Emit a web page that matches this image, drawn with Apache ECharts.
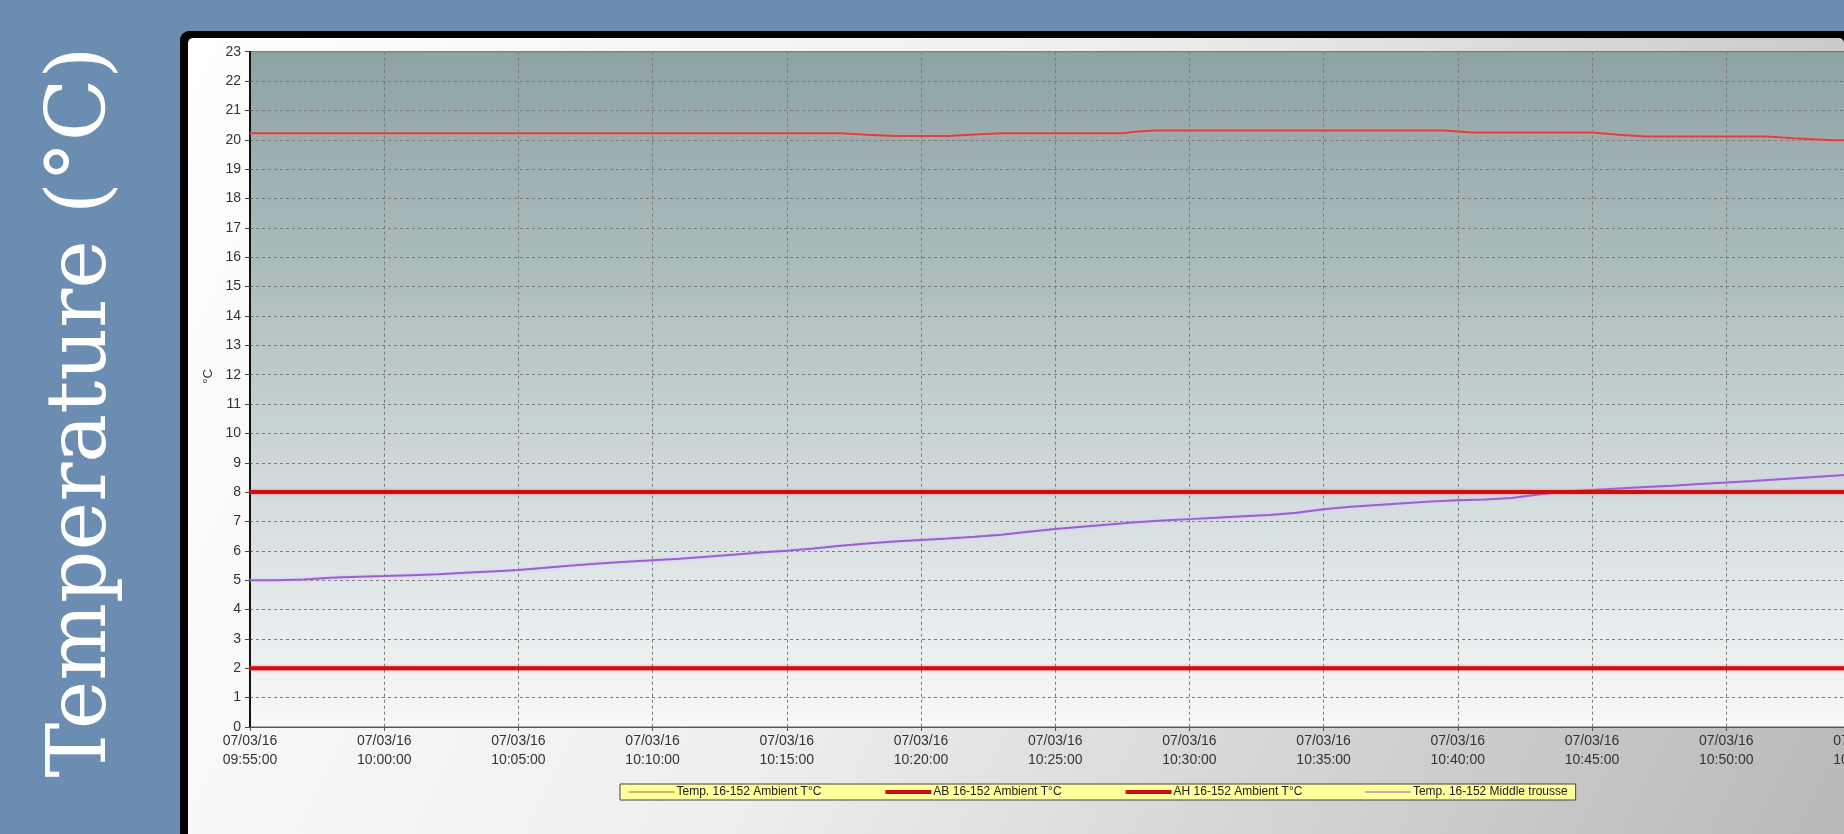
<!DOCTYPE html>
<html>
<head>
<meta charset="utf-8">
<script src="https://cdn.jsdelivr.net/npm/echarts@6/dist/echarts.min.js"></script>
<style>
html,body{margin:0;padding:0;width:1844px;height:834px;overflow:hidden;background:#6b8db1;}
#c{position:absolute;left:0;top:0;width:2100px;height:834px;}
</style>
</head>
<body>
<div id="c"></div>
<script>
// ---- data ----
const chartDate = '07/03/16';
const seriesNames = ['Temp. 16-152 Ambient T°C', 'AB 16-152 Ambient T°C', 'AH 16-152 Ambient T°C', 'Temp. 16-152 Middle trousse'];

const ambientTimes = ['09:55:00','10:17:00','10:18:00','10:19:00','10:21:00','10:22:00','10:23:00','10:27:30','10:28:00','10:28:40','10:39:30','10:40:30','10:45:00','10:46:00','10:47:00','10:51:30','10:52:30','10:54:00','11:00:00'];
const ambientValues = [20.22,20.22,20.17,20.13,20.13,20.18,20.22,20.22,20.27,20.32,20.32,20.25,20.25,20.17,20.11,20.11,20.05,19.98,19.98];

const limitTimes = ['09:55:00','11:00:00'];
const abValues = [2, 2];
const ahValues = [8, 8];

const middleTimes = ['09:55:00','09:56:00','09:57:00','09:58:00','09:59:00','10:00:00','10:01:00','10:02:00','10:03:00','10:04:00','10:05:00','10:06:00','10:07:00','10:08:00','10:09:00','10:10:00','10:11:00','10:12:00','10:13:00','10:14:00','10:15:00','10:16:00','10:17:00','10:18:00','10:19:00','10:20:00','10:21:00','10:22:00','10:23:00','10:24:00','10:25:00','10:26:00','10:27:00','10:28:00','10:29:00','10:30:00','10:31:00','10:32:00','10:33:00','10:34:00','10:35:00','10:36:00','10:37:00','10:38:00','10:39:00','10:40:00','10:41:00','10:42:00','10:43:00','10:44:00','10:45:00','10:46:00','10:47:00','10:48:00','10:49:00','10:50:00','10:51:00','10:52:00','10:53:00','10:54:00','10:55:00','10:56:00','10:57:00','10:58:00','10:59:00','11:00:00'];
const middleValues = [5.0,5.0,5.02,5.08,5.12,5.14,5.17,5.2,5.25,5.3,5.35,5.42,5.5,5.57,5.63,5.68,5.73,5.8,5.87,5.94,6.0,6.08,6.17,6.25,6.32,6.37,6.42,6.48,6.55,6.65,6.74,6.82,6.9,6.97,7.03,7.08,7.13,7.18,7.22,7.3,7.42,7.5,7.56,7.62,7.68,7.72,7.75,7.8,7.92,8.02,8.07,8.12,8.17,8.22,8.28,8.33,8.38,8.44,8.5,8.56,8.62,8.68,8.74,8.8,8.85,8.9];

const yTicks = {min: 0, max: 23, interval: 1};
const xTicks = {start: '09:55:00', end: '11:00:00', intervalMin: 5};

// ---- helpers ----
function toMin(t) {
  const p = t.split(':').map(Number);
  return p[0] * 60 + p[1] + (p[2] || 0) / 60;
}
const base = toMin(xTicks.start);
function pairs(times, vals) { return times.map((t, i) => [toMin(t) - base, vals[i]]); }
function pad(n) { return (n < 10 ? '0' : '') + n; }
function fmtTime(v) {
  const m = Math.round(base + v);
  return pad(Math.floor(m / 60)) + ':' + pad(m % 60) + ':00';
}

const chart = echarts.init(document.getElementById('c'));
const G = echarts.graphic;
const font = 'Liberation Sans, Arial, sans-serif';

chart.setOption({
  animation: false,
  graphic: [
    {type: 'rect', z: -10, shape: {x: 180, y: 31, width: 1900, height: 840, r: 9}, style: {fill: '#000'}},
    {type: 'rect', z: -9, shape: {x: 188, y: 38, width: 1656, height: 800, r: 5},
      style: {fill: new G.LinearGradient(0, 0, 1, 1, [
        {offset: 0, color: '#ffffff'}, {offset: 0.45, color: '#eeeeee'}, {offset: 1, color: '#b8b8b8'}])}},
    {type: 'rect', z: -9, shape: {x: 1844, y: 38, width: 260, height: 800}, style: {fill: '#c0c0c0'}},
    {type: 'text', z: 10, x: 84, y: 412, rotation: Math.PI / 2,
      style: {text: 'Temperature (°C)', fill: '#ffffff', font: '82px "DejaVu Serif", "Liberation Serif", serif',
        align: 'center', verticalAlign: 'middle'}}
  ],
  grid: {left: 250, top: 51.7, right: 105.4, bottom: 107, show: true,
    backgroundColor: new G.LinearGradient(0, 0, 0, 1, [
      {offset: 0, color: '#8ea3a4'}, {offset: 0.35, color: '#aebebf'}, {offset: 0.65, color: '#d3dbdd'}, {offset: 1, color: '#f8f8f9'}]),
    borderColor: '#6a6a6a', borderWidth: 1},
  legend: {
    left: 620, top: 784, orient: 'horizontal',
    backgroundColor: '#ffff9c', borderColor: '#444', borderWidth: 1,
    padding: [2, 8], itemGap: 62, itemWidth: 46, itemHeight: 14,
    itemStyle: {opacity: 0},
    textStyle: {fontFamily: font, fontSize: 12, color: '#222', padding: [0, 0, 0, -3]},
    data: [
      {name: seriesNames[0], lineStyle: {width: 1, color: '#b8602a'}},
      {name: seriesNames[1], lineStyle: {width: 4}},
      {name: seriesNames[2], lineStyle: {width: 4}},
      {name: seriesNames[3], lineStyle: {width: 1}}
    ]
  },
  xAxis: {
    type: 'value', min: 0, max: toMin(xTicks.end) - base, interval: xTicks.intervalMin,
    axisLine: {show: true, lineStyle: {color: '#555', width: 1}},
    axisTick: {show: true, length: 4, lineStyle: {color: '#555'}},
    axisLabel: {fontFamily: font, fontSize: 14, color: '#333', margin: 5, lineHeight: 19,
      formatter: v => chartDate + '\n' + fmtTime(v)},
    splitLine: {show: true, lineStyle: {color: '#7a7a7a', type: [3, 3], width: 1}}
  },
  yAxis: {
    type: 'value', min: yTicks.min, max: yTicks.max, interval: yTicks.interval,
    name: '°C', nameLocation: 'middle', nameGap: 34, nameRotate: 90,
    nameTextStyle: {fontFamily: font, fontSize: 13, color: '#333', padding: [0, 0, 0, 26]},
    axisLine: {show: true, lineStyle: {color: '#111', width: 2}},
    axisTick: {show: true, length: 5, lineStyle: {color: '#444'}},
    axisLabel: {fontFamily: font, fontSize: 14, color: '#333', margin: 9},
    splitLine: {show: true, lineStyle: {color: '#7a7a7a', type: [3, 3], width: 1}}
  },
  series: [
    {name: seriesNames[0], type: 'line', symbol: 'none', z: 3, data: pairs(ambientTimes, ambientValues),
      color: '#c94848', lineStyle: {width: 2, color: '#c94848', shadowColor: 'rgba(255,140,140,0.9)', shadowBlur: 3}},
    {name: seriesNames[1], type: 'line', symbol: 'none', z: 4, data: pairs(limitTimes, abValues),
      color: '#cc1111', lineStyle: {width: 4, color: '#c81010', shadowColor: 'rgba(255,90,90,0.8)', shadowBlur: 3}},
    {name: seriesNames[2], type: 'line', symbol: 'none', z: 4, data: pairs(limitTimes, ahValues),
      color: '#cc1111', lineStyle: {width: 4, color: '#c81010', shadowColor: 'rgba(255,90,90,0.8)', shadowBlur: 3}},
    {name: seriesNames[3], type: 'line', symbol: 'none', z: 3, data: pairs(middleTimes, middleValues),
      color: '#9a5fd0', lineStyle: {width: 2, color: '#9a5fd0', shadowColor: 'rgba(220,190,255,0.9)', shadowBlur: 3}}
  ]
});
</script>
</body>
</html>
